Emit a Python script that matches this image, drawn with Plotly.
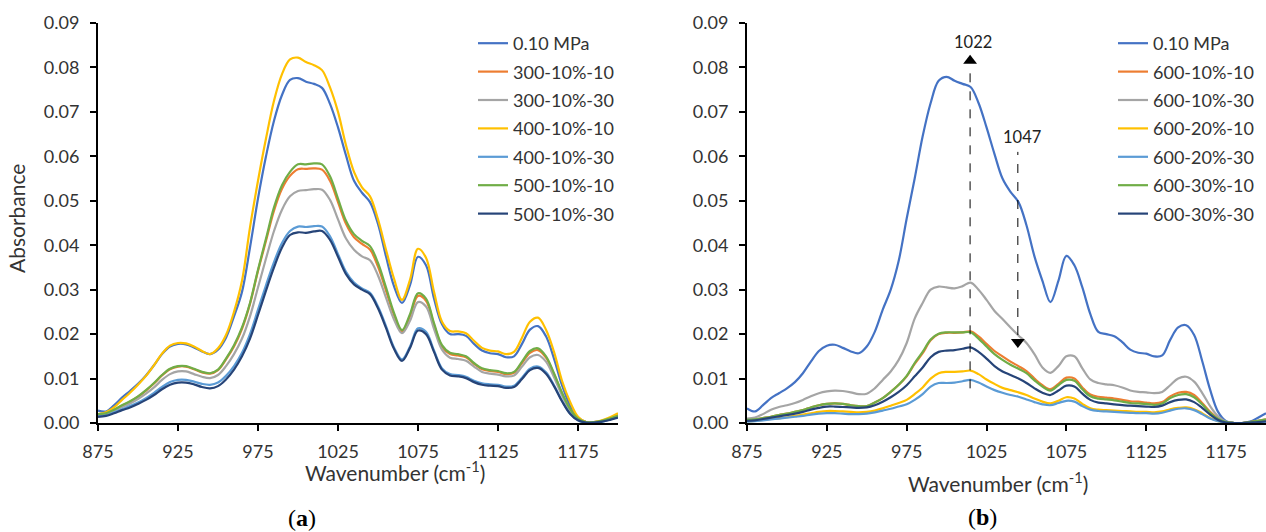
import plotly.graph_objects as go

W, H = 1266, 532

wavenumber = [875, 880, 885, 890, 895, 900, 905, 910, 915, 920, 925, 930, 935, 940, 945, 950,
              955, 960, 965, 970, 975, 980, 985, 990, 995, 1000, 1005, 1010, 1015, 1020, 1025,
              1030, 1035, 1040, 1045, 1050, 1055, 1060, 1065, 1070, 1075, 1080, 1085, 1090,
              1095, 1100, 1105, 1110, 1115, 1120, 1125, 1130, 1135, 1140, 1145, 1150, 1155,
              1160, 1165, 1170, 1175, 1180, 1185, 1190, 1195, 1200]

# ---------------- panel (a) ----------------
a_names = ["0.10 MPa", "300-10%-10", "300-10%-30", "400-10%-10", "400-10%-30", "500-10%-10", "500-10%-30"]

a_010 = [0.0028, 0.0026, 0.0040, 0.0057, 0.0072, 0.0088, 0.0107, 0.0130, 0.0155, 0.0172, 0.0178, 0.0177,
         0.0170, 0.0161, 0.0155, 0.0165, 0.0192, 0.0240, 0.0295, 0.0395, 0.0505, 0.0600, 0.0680, 0.0738,
         0.0772, 0.0776, 0.0768, 0.0763, 0.0754, 0.0718, 0.0665, 0.0602, 0.0545, 0.0518, 0.0497, 0.0448,
         0.0375, 0.0308, 0.0270, 0.0310, 0.0374, 0.0355, 0.0280, 0.0222, 0.0200, 0.0200, 0.0196, 0.0178,
         0.0163, 0.0157, 0.0155, 0.0148, 0.0150, 0.0178, 0.0210, 0.0218, 0.0195, 0.0145, 0.0085, 0.0040,
         0.0012, 0.0002, 0.0001, 0.0004, 0.0010, 0.0018]
a_300_10 = [0.0020, 0.0022, 0.0029, 0.0039, 0.0048, 0.0059, 0.0073, 0.0089, 0.0107, 0.0121, 0.0127, 0.0127,
            0.0121, 0.0114, 0.0111, 0.0119, 0.0143, 0.0172, 0.0212, 0.0268, 0.0342, 0.0410, 0.0478, 0.0527,
            0.0556, 0.0571, 0.0572, 0.0573, 0.0570, 0.0545, 0.0497, 0.0448, 0.0418, 0.0403, 0.0390, 0.0352,
            0.0298, 0.0243, 0.0206, 0.0240, 0.0286, 0.0275, 0.0221, 0.0172, 0.0155, 0.0152, 0.0148, 0.0133,
            0.0121, 0.0117, 0.0115, 0.0110, 0.0113, 0.0135, 0.0158, 0.0164, 0.0147, 0.0110, 0.0067, 0.0031,
            0.0010, 0.0002, 0.0002, 0.0005, 0.0010, 0.0016]
a_300_30 = [0.0018, 0.0020, 0.0027, 0.0036, 0.0044, 0.0054, 0.0066, 0.0080, 0.0097, 0.0110, 0.0116, 0.0116,
            0.0110, 0.0104, 0.0101, 0.0108, 0.0128, 0.0155, 0.0190, 0.0240, 0.0305, 0.0370, 0.0432, 0.0480,
            0.0510, 0.0522, 0.0524, 0.0526, 0.0525, 0.0502, 0.0458, 0.0415, 0.0390, 0.0375, 0.0366, 0.0332,
            0.0282, 0.0233, 0.0202, 0.0230, 0.0272, 0.0262, 0.0212, 0.0165, 0.0147, 0.0144, 0.0140, 0.0127,
            0.0115, 0.0111, 0.0109, 0.0105, 0.0107, 0.0127, 0.0148, 0.0153, 0.0138, 0.0103, 0.0062, 0.0029,
            0.0009, 0.0002, 0.0002, 0.0004, 0.0009, 0.0014]
a_400_10 = [0.0020, 0.0024, 0.0035, 0.0052, 0.0068, 0.0086, 0.0106, 0.0130, 0.0156, 0.0174, 0.0180, 0.0179,
            0.0172, 0.0162, 0.0155, 0.0168, 0.0198, 0.0250, 0.0320, 0.0440, 0.0545, 0.0640, 0.0725, 0.0785,
            0.0818, 0.0822, 0.0812, 0.0805, 0.0794, 0.0755, 0.0700, 0.0625, 0.0565, 0.0530, 0.0510, 0.0458,
            0.0390, 0.0325, 0.0277, 0.0322, 0.0392, 0.0372, 0.0295, 0.0228, 0.0207, 0.0206, 0.0202, 0.0185,
            0.0169, 0.0163, 0.0161, 0.0155, 0.0160, 0.0192, 0.0228, 0.0237, 0.0210, 0.0160, 0.0095, 0.0048,
            0.0014, 0.0002, 0.0002, 0.0006, 0.0013, 0.0022]
a_400_30 = [0.0016, 0.0018, 0.0024, 0.0031, 0.0038, 0.0046, 0.0056, 0.0068, 0.0081, 0.0092, 0.0097, 0.0097,
            0.0093, 0.0088, 0.0086, 0.0091, 0.0106, 0.0128, 0.0158, 0.0200, 0.0255, 0.0310, 0.0362, 0.0405,
            0.0432, 0.0442, 0.0441, 0.0443, 0.0442, 0.0420, 0.0380, 0.0340, 0.0316, 0.0303, 0.0293, 0.0262,
            0.0218, 0.0170, 0.0143, 0.0172, 0.0213, 0.0205, 0.0163, 0.0123, 0.0110, 0.0108, 0.0104, 0.0095,
            0.0089, 0.0087, 0.0086, 0.0082, 0.0084, 0.0102, 0.0122, 0.0127, 0.0114, 0.0085, 0.0050, 0.0022,
            0.0006, 0.0001, 0.0001, 0.0003, 0.0008, 0.0013]
a_500_10 = [0.0020, 0.0022, 0.0030, 0.0040, 0.0049, 0.0060, 0.0074, 0.0090, 0.0108, 0.0122, 0.0128, 0.0128,
            0.0122, 0.0115, 0.0112, 0.0120, 0.0145, 0.0175, 0.0215, 0.0270, 0.0345, 0.0415, 0.0485, 0.0535,
            0.0565, 0.0582, 0.0582, 0.0584, 0.0582, 0.0555, 0.0505, 0.0455, 0.0425, 0.0410, 0.0398, 0.0360,
            0.0305, 0.0248, 0.0209, 0.0245, 0.0292, 0.0280, 0.0225, 0.0175, 0.0158, 0.0155, 0.0150, 0.0135,
            0.0123, 0.0119, 0.0117, 0.0112, 0.0115, 0.0138, 0.0162, 0.0168, 0.0150, 0.0112, 0.0068, 0.0032,
            0.0010, 0.0002, 0.0002, 0.0005, 0.0010, 0.0016]
a_500_30 = [0.0014, 0.0016, 0.0022, 0.0029, 0.0035, 0.0043, 0.0052, 0.0063, 0.0076, 0.0086, 0.0091, 0.0091,
            0.0087, 0.0081, 0.0078, 0.0083, 0.0098, 0.0120, 0.0150, 0.0190, 0.0243, 0.0298, 0.0350, 0.0395,
            0.0423, 0.0429, 0.0428, 0.0431, 0.0432, 0.0412, 0.0374, 0.0335, 0.0312, 0.0300, 0.0290, 0.0258,
            0.0214, 0.0167, 0.0140, 0.0169, 0.0208, 0.0200, 0.0160, 0.0120, 0.0107, 0.0105, 0.0101, 0.0092,
            0.0086, 0.0084, 0.0083, 0.0079, 0.0081, 0.0099, 0.0119, 0.0124, 0.0111, 0.0083, 0.0049, 0.0021,
            0.0006, 0.0001, 0.0001, 0.0003, 0.0007, 0.0012]

# ---------------- panel (b) ----------------
b_names = ["0.10 MPa", "600-10%-10", "600-10%-30", "600-20%-10", "600-20%-30", "600-30%-10", "600-30%-30"]

b_010 = [0.0033, 0.0026, 0.0040, 0.0056, 0.0067, 0.0078, 0.0092, 0.0112, 0.0138, 0.0162, 0.0174, 0.0176,
         0.0169, 0.0161, 0.0157, 0.0172, 0.0205, 0.0255, 0.0300, 0.0365, 0.0460, 0.0550, 0.0645, 0.0720,
         0.0770, 0.0779, 0.0770, 0.0763, 0.0756, 0.0720, 0.0665, 0.0605, 0.0550, 0.0520, 0.0497, 0.0445,
         0.0375, 0.0320, 0.0272, 0.0320, 0.0376, 0.0355, 0.0305, 0.0245, 0.0205, 0.0200, 0.0195, 0.0182,
         0.0165, 0.0158, 0.0156, 0.0150, 0.0152, 0.0187, 0.0215, 0.0220, 0.0198, 0.0140, 0.0075, 0.0025,
         0.0004, 0.0000, 0.0000, 0.0003, 0.0012, 0.0022]
b_10_10 = [0.0007, 0.0008, 0.0011, 0.0014, 0.0018, 0.0021, 0.0025, 0.0029, 0.0035, 0.0040, 0.0043, 0.0044,
           0.0043, 0.0040, 0.0038, 0.0038, 0.0046, 0.0056, 0.0070, 0.0086, 0.0105, 0.0133, 0.0157, 0.0186,
           0.0200, 0.0203, 0.0203, 0.0204, 0.0206, 0.0195, 0.0178, 0.0162, 0.0150, 0.0138, 0.0128, 0.0117,
           0.0100, 0.0085, 0.0076, 0.0088, 0.0102, 0.0100, 0.0080, 0.0064, 0.0059, 0.0057, 0.0055, 0.0052,
           0.0049, 0.0048, 0.0046, 0.0044, 0.0047, 0.0060, 0.0068, 0.0070, 0.0063, 0.0045, 0.0025, 0.0010,
           0.0002, 0.0000, 0.0000, 0.0002, 0.0005, 0.0008]
b_10_30 = [0.0010, 0.0012, 0.0020, 0.0030, 0.0036, 0.0040, 0.0045, 0.0052, 0.0060, 0.0067, 0.0071, 0.0073,
           0.0072, 0.0069, 0.0065, 0.0066, 0.0078, 0.0097, 0.0116, 0.0142, 0.0180, 0.0235, 0.0270, 0.0300,
           0.0307, 0.0305, 0.0303, 0.0308, 0.0316, 0.0300, 0.0277, 0.0252, 0.0234, 0.0215, 0.0197, 0.0180,
           0.0155, 0.0125, 0.0113, 0.0128, 0.0150, 0.0150, 0.0123, 0.0098, 0.0090, 0.0087, 0.0085, 0.0080,
           0.0073, 0.0070, 0.0069, 0.0067, 0.0070, 0.0085, 0.0100, 0.0104, 0.0093, 0.0068, 0.0038, 0.0015,
           0.0003, 0.0000, 0.0000, 0.0001, 0.0003, 0.0006]
b_20_10 = [0.0004, 0.0005, 0.0007, 0.0009, 0.0011, 0.0013, 0.0016, 0.0019, 0.0022, 0.0025, 0.0027, 0.0027,
           0.0026, 0.0025, 0.0024, 0.0025, 0.0028, 0.0033, 0.0039, 0.0045, 0.0052, 0.0065, 0.0080, 0.0100,
           0.0112, 0.0115, 0.0115, 0.0116, 0.0118, 0.0110, 0.0098, 0.0088, 0.0079, 0.0074, 0.0069, 0.0063,
           0.0055, 0.0048, 0.0044, 0.0050, 0.0058, 0.0055, 0.0043, 0.0033, 0.0030, 0.0029, 0.0028, 0.0027,
           0.0026, 0.0025, 0.0025, 0.0024, 0.0026, 0.0031, 0.0034, 0.0035, 0.0031, 0.0022, 0.0011, 0.0004,
           0.0001, 0.0000, 0.0000, 0.0000, 0.0001, 0.0002]
b_20_30 = [0.0003, 0.0004, 0.0006, 0.0008, 0.0010, 0.0012, 0.0014, 0.0016, 0.0019, 0.0021, 0.0022, 0.0022,
           0.0021, 0.0020, 0.0020, 0.0021, 0.0024, 0.0028, 0.0032, 0.0037, 0.0042, 0.0052, 0.0065, 0.0082,
           0.0090, 0.0090, 0.0091, 0.0094, 0.0097, 0.0091, 0.0082, 0.0074, 0.0068, 0.0063, 0.0059, 0.0053,
           0.0047, 0.0042, 0.0040, 0.0045, 0.0050, 0.0048, 0.0038, 0.0030, 0.0027, 0.0026, 0.0025, 0.0024,
           0.0023, 0.0022, 0.0022, 0.0021, 0.0023, 0.0028, 0.0032, 0.0033, 0.0029, 0.0020, 0.0010, 0.0004,
           0.0001, 0.0000, 0.0000, 0.0000, 0.0001, 0.0002]
b_30_10 = [0.0007, 0.0008, 0.0011, 0.0014, 0.0018, 0.0021, 0.0025, 0.0029, 0.0035, 0.0040, 0.0043, 0.0044,
           0.0043, 0.0040, 0.0038, 0.0038, 0.0046, 0.0056, 0.0070, 0.0086, 0.0106, 0.0135, 0.0160, 0.0188,
           0.0201, 0.0204, 0.0204, 0.0204, 0.0204, 0.0190, 0.0172, 0.0155, 0.0142, 0.0131, 0.0122, 0.0112,
           0.0096, 0.0082, 0.0073, 0.0085, 0.0097, 0.0095, 0.0076, 0.0060, 0.0055, 0.0053, 0.0051, 0.0048,
           0.0045, 0.0044, 0.0043, 0.0041, 0.0044, 0.0056, 0.0063, 0.0065, 0.0058, 0.0042, 0.0023, 0.0009,
           0.0002, 0.0000, 0.0000, 0.0002, 0.0005, 0.0008]
b_30_30 = [0.0005, 0.0006, 0.0009, 0.0012, 0.0015, 0.0018, 0.0021, 0.0025, 0.0030, 0.0034, 0.0037, 0.0037,
           0.0036, 0.0035, 0.0034, 0.0035, 0.0040, 0.0048, 0.0058, 0.0070, 0.0085, 0.0105, 0.0125, 0.0148,
           0.0160, 0.0163, 0.0164, 0.0167, 0.0170, 0.0160, 0.0145, 0.0128, 0.0116, 0.0108, 0.0100, 0.0090,
           0.0078, 0.0068, 0.0063, 0.0073, 0.0084, 0.0082, 0.0066, 0.0052, 0.0046, 0.0044, 0.0042, 0.0040,
           0.0039, 0.0038, 0.0037, 0.0036, 0.0039, 0.0047, 0.0052, 0.0053, 0.0047, 0.0034, 0.0019, 0.0007,
           0.0001, 0.0000, 0.0000, 0.0001, 0.0002, 0.0004]

colors = ["#4472C4", "#ED7D31", "#A5A5A5", "#FFC000", "#5B9BD5", "#70AD47", "#264478"]

x_ticks = [875, 925, 975, 1025, 1075, 1125, 1175]

# band markers in panel (b)
band_labels = ["1022", "1047"]
band_pos = [1014.7, 1044.6]
band_line_lo = [0.0078, 0.0198]
band_line_hi = [0.0806, 0.0610]
band_arrow_y = [0.0815, 0.0182]
band_arrow_sym = ["triangle-up", "triangle-down"]
band_text_y = [0.0857, 0.0644]
band_text_x = [1016.5, 1047.0]

FONT = "Lato"
TXT = "#333333"

fig = go.Figure()
a_series = [a_010, a_300_10, a_300_30, a_400_10, a_400_30, a_500_10, a_500_30]
b_series = [b_010, b_10_10, b_10_30, b_20_10, b_20_30, b_30_10, b_30_30]

for i, (nm, ys) in enumerate(zip(a_names, a_series)):
    fig.add_trace(go.Scatter(x=wavenumber, y=ys, name=nm, mode="lines",
                             line=dict(color=colors[i], width=2.2, shape="spline", smoothing=1.0),
                             xaxis="x", yaxis="y", legend="legend", legendgroup="a%d" % i))
for i, (nm, ys) in enumerate(zip(b_names, b_series)):
    fig.add_trace(go.Scatter(x=wavenumber, y=ys, name=nm, mode="lines",
                             line=dict(color=colors[i], width=2.2, shape="spline", smoothing=1.0),
                             xaxis="x2", yaxis="y2", legend="legend2", legendgroup="b%d" % i))

# arrow heads
fig.add_trace(go.Scatter(x=band_pos, y=band_arrow_y, mode="markers",
                         marker=dict(symbol=band_arrow_sym, size=12, color="black"),
                         xaxis="x2", yaxis="y2", showlegend=False, hoverinfo="skip"))

shapes = []
for xp, lo, hi in zip(band_pos, band_line_lo, band_line_hi):
    shapes.append(dict(type="line", xref="x2", yref="y2", x0=xp, x1=xp, y0=lo, y1=hi,
                       line=dict(color="black", width=1, dash="dash")))

annotations = []
for lab, tx, ty in zip(band_labels, band_text_x, band_text_y):
    annotations.append(dict(text=lab, x=tx, y=ty, xref="x2", yref="y2", showarrow=False,
                            xanchor="center", yanchor="middle",
                            font=dict(family=FONT, size=16.5, color="#222222")))

def px(xp):
    return xp / W

def py(yp):
    return 1 - yp / H

TITLE_SIZE = 21
annotations += [
    dict(text="Absorbance", x=px(17), y=py(219), xref="paper", yref="paper", textangle=-90,
         xanchor="center", yanchor="middle",
         showarrow=False, font=dict(family=FONT, size=TITLE_SIZE, color=TXT)),
    dict(text="Wavenumber (cm<sup>-1</sup>)", x=px(395), y=py(471), xref="paper", yref="paper",
         xanchor="center", yanchor="middle",
         showarrow=False, font=dict(family=FONT, size=TITLE_SIZE, color=TXT)),
    dict(text="Wavenumber (cm<sup>-1</sup>)", x=px(998), y=py(482), xref="paper", yref="paper",
         xanchor="center", yanchor="middle",
         showarrow=False, font=dict(family=FONT, size=TITLE_SIZE, color=TXT)),
    dict(text="(<b>a</b>)", x=px(302), y=py(518), xref="paper", yref="paper",
         xanchor="center", yanchor="middle",
         showarrow=False, font=dict(family="Liberation Serif", size=24, color="black")),
    dict(text="(<b>b</b>)", x=px(982), y=py(517), xref="paper", yref="paper",
         xanchor="center", yanchor="middle",
         showarrow=False, font=dict(family="Liberation Serif", size=24, color="black")),
]

TICK_SIZE = 18

def xax(dom):
    return dict(domain=dom, range=[875, 1200], tickmode="array", tickvals=x_ticks,
                ticks="outside", ticklen=6, tickwidth=2, tickcolor="black",
                showline=True, linecolor="black", linewidth=2, showgrid=False, zeroline=False,
                tickfont=dict(family=FONT, size=TICK_SIZE, color=TXT), ticklabelstandoff=5,
                automargin=False)

def yax(anchor):
    return dict(domain=[py(423), py(23)], range=[0, 0.09], dtick=0.01, tickformat=".2f",
                ticks="outside", ticklen=6, tickwidth=2, tickcolor="black",
                showline=True, linecolor="black", linewidth=2, showgrid=False, zeroline=False,
                tickfont=dict(family=FONT, size=TICK_SIZE, color=TXT), anchor=anchor,
                ticklabelstandoff=7, automargin=False)

leg_common = dict(xanchor="left", yanchor="top", bgcolor="rgba(0,0,0,0)",
                  font=dict(family=FONT, size=18, color=TXT), tracegroupgap=2,
                  traceorder="grouped")

fig.update_layout(
    width=W, height=H, margin=dict(l=0, r=0, t=0, b=0, autoexpand=False),
    paper_bgcolor="white", plot_bgcolor="white",
    xaxis=dict(xax([px(98), px(618)]), anchor="y"),
    yaxis=yax("x"),
    xaxis2=dict(xax([px(747), 1.0]), anchor="y2"),
    yaxis2=yax("x2"),
    legend=dict(leg_common, x=px(473), y=py(25)),
    legend2=dict(leg_common, x=px(1113), y=py(25)),
    shapes=shapes, annotations=annotations, showlegend=True,
)

fig.write_html("out.html")
